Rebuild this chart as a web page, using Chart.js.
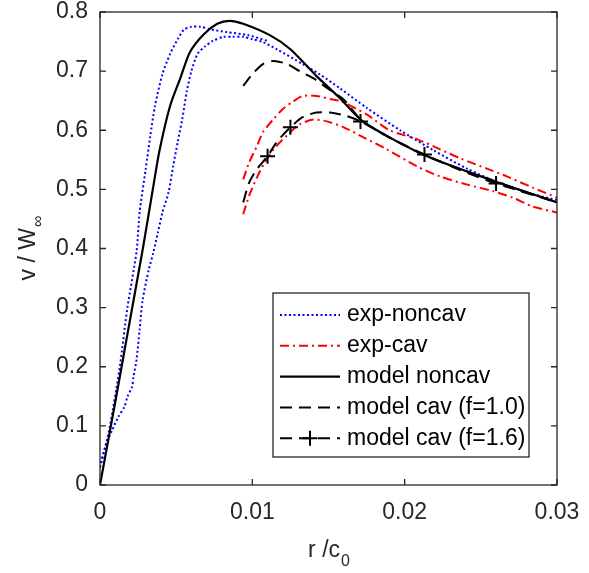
<!DOCTYPE html>
<html>
<head>
<meta charset="utf-8">
<script src="https://cdn.jsdelivr.net/npm/chart.js@4.4.1/dist/chart.umd.min.js"></script>
<style>
  body { margin: 0; background: #fff; }
  #wrap { width: 589px; height: 573px; }
</style>
</head>
<body>
<div id="wrap"><canvas id="my-chart" width="589" height="573"></canvas></div>
<script>
const xTicks = [0, 0.01, 0.02, 0.03];
const yTicks = [0, 0.1, 0.2, 0.3, 0.4, 0.5, 0.6, 0.7, 0.8];

// exp-noncav is a loop: outer branch (higher peak) and inner branch
const expNoncavOuterX = [0, 0.00046, 0.00066, 0.0013, 0.0018, 0.0024, 0.0026, 0.0030, 0.0033, 0.0036, 0.0041, 0.0046, 0.0051, 0.0055, 0.0060, 0.0066, 0.0072, 0.0083, 0.0097, 0.0110];
const expNoncavOuterY = [0.03, 0.076, 0.10, 0.20, 0.30, 0.395, 0.461, 0.534, 0.59, 0.64, 0.695, 0.729, 0.754, 0.77, 0.775, 0.775, 0.771, 0.766, 0.761, 0.751];
const expNoncavInnerX = [0, 0.00033, 0.0008, 0.0012, 0.0016, 0.0018, 0.0021, 0.0022, 0.0024, 0.0026, 0.0028, 0.0032, 0.0035, 0.0038, 0.0041, 0.0045, 0.0048, 0.0051, 0.0054, 0.0057, 0.0060, 0.0064, 0.0069, 0.0074, 0.0081, 0.0087, 0.0094, 0.0100, 0.0107, 0.0116, 0.0133, 0.0144, 0.0158, 0.0175, 0.0197, 0.0219, 0.0241, 0.0263, 0.0284, 0.0300];
const expNoncavInnerY = [0.03, 0.064, 0.093, 0.115, 0.132, 0.149, 0.166, 0.183, 0.212, 0.263, 0.313, 0.364, 0.393, 0.427, 0.461, 0.495, 0.539, 0.58, 0.619, 0.666, 0.70, 0.729, 0.742, 0.751, 0.758, 0.758, 0.758, 0.754, 0.749, 0.737, 0.712, 0.695, 0.670, 0.638, 0.600, 0.566, 0.535, 0.510, 0.492, 0.482];

// exp-cav is also a loop: upper and lower branch
const expCavUpperX = [0.0094, 0.0098, 0.0103, 0.0107, 0.0114, 0.0120, 0.0127, 0.0133, 0.0142, 0.0151, 0.0158, 0.0175, 0.0190, 0.0208, 0.0223, 0.0236, 0.0254, 0.0267, 0.0284, 0.0300];
const expCavUpperY = [0.517, 0.546, 0.573, 0.597, 0.619, 0.636, 0.649, 0.658, 0.658, 0.653, 0.649, 0.627, 0.600, 0.585, 0.568, 0.553, 0.535, 0.522, 0.503, 0.486];
const expCavLowerX = [0.0094, 0.0098, 0.0103, 0.0108, 0.0114, 0.0123, 0.0131, 0.0140, 0.0149, 0.0160, 0.0173, 0.0188, 0.0208, 0.0223, 0.0241, 0.0258, 0.0271, 0.0284, 0.0300];
const expCavLowerY = [0.458, 0.490, 0.520, 0.545, 0.568, 0.592, 0.610, 0.618, 0.615, 0.605, 0.588, 0.568, 0.539, 0.522, 0.508, 0.497, 0.486, 0.471, 0.461];

const modelNoncavX = [0, 0.0005, 0.0010, 0.0018, 0.0028, 0.0035, 0.0039, 0.0046, 0.0053, 0.0059, 0.0068, 0.0077, 0.0085, 0.0094, 0.0112, 0.0125, 0.0142, 0.0158, 0.0173, 0.0212, 0.0261, 0.0300];
const modelNoncavY = [0, 0.07, 0.14, 0.255, 0.398, 0.505, 0.565, 0.641, 0.69, 0.732, 0.762, 0.78, 0.785, 0.78, 0.76, 0.737, 0.692, 0.653, 0.614, 0.559, 0.512, 0.478];

const modelCav10X = [0.0094, 0.0100, 0.0107, 0.0114, 0.0123, 0.0131, 0.0140, 0.0150, 0.0160, 0.0173, 0.0212, 0.0261, 0.0300];
const modelCav10Y = [0.675, 0.695, 0.712, 0.717, 0.712, 0.700, 0.688, 0.670, 0.652, 0.614, 0.559, 0.512, 0.478];

const modelCav16X = [0.0094, 0.0098, 0.0103, 0.0110, 0.0116, 0.0125, 0.0133, 0.0142, 0.0151, 0.0162, 0.0171, 0.0192, 0.0213, 0.0236, 0.0260, 0.0300];
const modelCav16Y = [0.478, 0.512, 0.534, 0.556, 0.580, 0.605, 0.622, 0.630, 0.630, 0.624, 0.615, 0.585, 0.559, 0.533, 0.510, 0.478];
const modelCav16Marks = [0, 0, 0, 1, 0, 1, 0, 0, 0, 0, 1, 0, 1, 0, 1, 0];

const FONT = '"Liberation Sans", Arial, sans-serif';
const AXIS_COLOR = '#262626';

function pts(xs, ys) {
  return xs.map((x, i) => ({ x: x, y: ys[i] }));
}

const blueStyle = { borderColor: '#0000ff', borderWidth: 2, borderDash: [2, 2.5] };
const redStyle = { borderColor: '#ff0000', borderWidth: 2, borderDash: [9, 4, 2, 4] };

const datasets = [
  Object.assign({ label: 'exp-noncav', data: pts(expNoncavOuterX, expNoncavOuterY), order: 6, inLegend: true }, blueStyle),
  Object.assign({ label: 'exp-noncav', data: pts(expNoncavInnerX, expNoncavInnerY), order: 6 }, blueStyle),
  Object.assign({ label: 'exp-cav', data: pts(expCavUpperX, expCavUpperY), order: 5, inLegend: true }, redStyle),
  Object.assign({ label: 'exp-cav', data: pts(expCavLowerX, expCavLowerY), order: 5 }, redStyle),
  { label: 'model noncav', data: pts(modelNoncavX, modelNoncavY), borderColor: '#000', borderWidth: 2.2, order: 3, inLegend: true },
  { label: 'model cav (f=1.0)', data: pts(modelCav10X, modelCav10Y), borderColor: '#000', borderWidth: 2, borderDash: [12, 7], order: 2, inLegend: true },
  { label: 'model cav (f=1.6)', data: pts(modelCav16X, modelCav16Y), borderColor: '#000', borderWidth: 2, borderDash: [12, 7], order: 1, inLegend: true,
    pointStyle: 'cross', pointRadius: modelCav16Marks.map(m => m ? 7.5 : 0), pointBorderWidth: 2, pointBorderColor: '#000', marker: true }
];

// MATLAB-like frame: box, inward ticks, legend inside, axis titles with subscripts
const matlabFrame = {
  id: 'matlabFrame',
  afterDraw(chart) {
    const ctx = chart.ctx;
    const a = chart.chartArea;
    const xs = chart.scales.x, ys = chart.scales.y;
    ctx.save();
    ctx.strokeStyle = AXIS_COLOR;
    ctx.lineWidth = 1.3;
    ctx.strokeRect(a.left, a.top, a.right - a.left, a.bottom - a.top);
    ctx.beginPath();
    const tl = 6;
    xTicks.forEach(v => {
      const p = xs.getPixelForValue(v);
      ctx.moveTo(p, a.bottom); ctx.lineTo(p, a.bottom - tl);
      ctx.moveTo(p, a.top); ctx.lineTo(p, a.top + tl);
    });
    yTicks.forEach(v => {
      const p = ys.getPixelForValue(v);
      ctx.moveTo(a.left, p); ctx.lineTo(a.left + tl, p);
      ctx.moveTo(a.right, p); ctx.lineTo(a.right - tl, p);
    });
    ctx.stroke();

    // legend
    const items = chart.data.datasets.filter(d => d.inLegend);
    const bx = 273, by = 293, bw = 256, bh = 164;
    ctx.fillStyle = '#fff';
    ctx.fillRect(bx, by, bw, bh);
    ctx.strokeRect(bx, by, bw, bh);
    items.forEach((d, i) => {
      const cy = by + 22 + i * 30.8;
      ctx.save();
      ctx.strokeStyle = d.borderColor;
      ctx.lineWidth = d.borderWidth;
      ctx.setLineDash(d.borderDash || []);
      ctx.beginPath();
      ctx.moveTo(280, cy); ctx.lineTo(340, cy);
      ctx.stroke();
      if (d.marker) {
        ctx.setLineDash([]);
        ctx.beginPath();
        ctx.moveTo(310 - 7.5, cy); ctx.lineTo(310 + 7.5, cy);
        ctx.moveTo(310, cy - 7.5); ctx.lineTo(310, cy + 7.5);
        ctx.stroke();
      }
      ctx.restore();
      ctx.fillStyle = '#000';
      ctx.font = '23px ' + FONT;
      ctx.textBaseline = 'middle';
      ctx.textAlign = 'left';
      ctx.fillText(d.label, 347, cy);
    });

    // axis titles
    ctx.fillStyle = AXIS_COLOR;
    ctx.textBaseline = 'alphabetic';
    ctx.textAlign = 'left';
    ctx.font = '23px ' + FONT;
    const xMain = 'r /c', xSub = '0';
    let w1 = ctx.measureText(xMain).width;
    ctx.font = '16px ' + FONT;
    let w2 = ctx.measureText(xSub).width;
    let cx = (a.left + a.right) / 2 - (w1 + w2) / 2;
    ctx.font = '23px ' + FONT;
    ctx.fillText(xMain, cx, 557);
    ctx.font = '16px ' + FONT;
    ctx.fillText(xSub, cx + w1 + 1, 566);

    ctx.translate(35, (a.top + a.bottom) / 2);
    ctx.rotate(-Math.PI / 2);
    const yMain = 'v / W', ySub = '\u221E';
    ctx.font = '23px ' + FONT;
    w1 = ctx.measureText(yMain).width;
    ctx.font = '16px ' + FONT;
    w2 = ctx.measureText(ySub).width;
    cx = -(w1 + w2) / 2;
    ctx.font = '23px ' + FONT;
    ctx.fillText(yMain, cx, 0);
    ctx.font = '16px ' + FONT;
    ctx.fillText(ySub, cx + w1 + 1, 8);
    ctx.restore();
  }
};

const ctx = document.getElementById('my-chart').getContext('2d');
const myChart = new Chart(ctx, {
  type: 'scatter',
  data: { datasets: datasets },
  options: {
    responsive: false,
    animation: false,
    devicePixelRatio: 1,
    showLine: true,
    elements: {
      line: { tension: 0.25, fill: false },
      point: { radius: 0, hoverRadius: 0 }
    },
    layout: { padding: { top: 12, right: 32, left: 0, bottom: 0 } },
    plugins: {
      legend: { display: false },
      tooltip: { enabled: false }
    },
    scales: {
      x: {
        type: 'linear', min: 0, max: 0.03,
        afterFit(scale) {
          scale.height = 88;
          scale.paddingLeft = 0; scale.paddingRight = 0;
        },
        afterBuildTicks(scale) { scale.ticks = xTicks.map(v => ({ value: v })); },
        grid: { display: false, drawTicks: false },
        border: { display: false },
        ticks: {
          padding: 16, color: AXIS_COLOR, maxRotation: 0,
          font: { family: FONT, size: 23, lineHeight: 1 },
          callback: v => String(parseFloat(v.toFixed(3)))
        }
      },
      y: {
        type: 'linear', min: 0, max: 0.8,
        afterFit(scale) {
          scale.width = 100;
          scale.paddingTop = 0; scale.paddingBottom = 0;
        },
        afterBuildTicks(scale) { scale.ticks = yTicks.map(v => ({ value: v })); },
        grid: { display: false, drawTicks: false },
        border: { display: false },
        ticks: {
          padding: 12, color: AXIS_COLOR,
          font: { family: FONT, size: 23, lineHeight: 1 },
          callback: v => String(parseFloat(v.toFixed(2)))
        }
      }
    }
  },
  plugins: [matlabFrame]
});
</script>
</body>
</html>
